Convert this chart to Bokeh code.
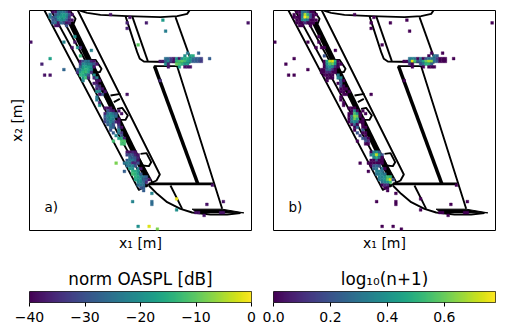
from bokeh.plotting import figure
from bokeh.layouts import column, row
from bokeh.models import Range1d, LinearColorMapper, Label, FixedTicker
from bokeh.palettes import Viridis256
from bokeh.embed import file_html
from bokeh.resources import INLINE
import numpy as np

# cells: (column, row, norm OASPL [dB], log10(n+1))
scattered = [(29,1,-38,0),(36,2,-38,0),(42,4,-37,0),(48,3,-18,0),(49,7,-23,0),(35,4,-36,0),(35,6,-36,0),(79,4,-38,0),
 (0,11,-38,0),(39,12,-10,0),(7,17,-17,0),(4,19,-36,0),(12,21,-27,0),(5,23,-38,0),(7,23,-38,0),(47,25,-35,0),(35,30,-38,0),
 (31,55,-8,0),(44,66,-22,0),(37,69,-22,0),(44,69,-26,0),(44,70,-26,0),(53,68,-1,0),(53,72,-20,0),(66,63,-38,0),(64,70,-38,0),
 (70,69,-38,0),(60,73,-38,0),(61,73,-38,0),(63,74,-38,0),(69,73,-38,0),(70,73,-38,0),(39,78,-20,0),(43,78,-2,0),(46,79,-8,0),
 (16,9,-20,0),(16,11,-38,0),(12,11,-22,0),(17,13,-18,0),(18,16,-13,.2),(22,14,-22,0),(15,13,-38,0),(18,13,-35,0)]
wing_tip_cluster = [(57,15,-24,0),(61,15,-28,0),(65,17,-28,0),(58,16,-17,.3),(59,16,-15,.25),(56,16,-20,0),
 (49,17,-25,.3),(50,17,-27,.35),(51,17,-33,.3),(52,17,-38,0),(53,17,-20,.3),(54,17,-38,0),(55,17,-20,.2),(56,17,-15,.3),(57,17,-15,.3),(58,17,-18,.3),(59,17,-25,.15),(60,17,-28,0),(61,17,-28,0),(62,17,-32,0),
 (47,18,-38,0),(48,18,-38,0),(49,18,-28,.3),(50,18,-22,.75),(51,18,-33,.55),(52,18,-38,.2),(53,18,-14,.3),(54,18,-12,.45),(55,18,-10,.6),(56,18,-12,.68),(57,18,-17,.65),(58,18,-20,.3),(59,18,-28,.2),(60,18,-28,0),(61,18,-30,0),(62,18,-33,0),
 (49,19,-20,.1),(50,19,-36,0),(53,19,-9,.2),(54,19,-11,.3),(55,19,-14,.5),(56,19,-19,.5),(57,19,-18,.25),(50,20,-38,0),(54,20,-18,0),(56,20,-38,0),(57,20,-38,0),(58,20,-38,0)]
top_cluster = [(8,0,-38,0),(9,0,-38,0),(10,0,-26,.3),(11,0,-24,.3),(12,0,-24,.2),(13,0,-30,0),(14,0,-38,0),
 (7,1,-25,0),(9,1,-30,0),(10,1,-24,.3),(11,1,-20,.7),(12,1,-18,.5),(13,1,-20,.2),(14,1,-30,0),(15,1,-38,0),
 (7,2,-22,0),(8,2,-30,0),(9,2,-26,0),(10,2,-20,.35),(11,2,-18,.78),(12,2,-17,.65),(13,2,-22,.2),(14,2,-33,0),
 (8,3,-28,0),(9,3,-30,0),(10,3,-22,.35),(11,3,-20,.4),(12,3,-20,.3),(13,3,-28,0),(14,3,-36,0),(15,3,-38,0),
 (8,4,-28,0),(9,4,-25,0),(10,4,-38,0),(11,4,-26,.1),(12,4,-30,0),(13,4,-38,0),(14,4,-36,0),(9,5,-38,0),(10,5,-38,0),(13,5,-30,0)]
second_cluster = [(18,18,-38,0),(19,18,-30,.45),(20,18,-25,.7),(21,18,-25,.75),(22,18,-36,.5),(23,18,-38,0),
 (18,19,-35,0),(19,19,-22,.4),(20,19,-22,.55),(21,19,-22,.6),(22,19,-25,.4),(23,19,-30,0),(24,19,-38,0),
 (18,20,-28,0),(19,20,-18,.3),(20,20,-17,.4),(21,20,-17,.35),(22,20,-20,.1),(23,20,-38,0),
 (17,21,-28,0),(18,21,-24,0),(19,21,-16,.25),(20,21,-14,.3),(21,21,-16,.1),(22,21,-22,0),
 (17,22,-34,0),(18,22,-18,0),(19,22,-14,.1),(20,22,-13,.1),(21,22,-18,0),(22,22,-34,0),
 (18,23,-14,0),(19,23,-15,0),(20,23,-20,0),(21,23,-30,0),(23,23,-20,.3),(19,24,-18,0),(20,24,-12,0),(21,24,-36,0),(23,24,-35,.35),(24,24,-22,.35),
 (19,25,-22,0),(24,25,-38,.25),(25,25,-38,0),(23,26,-37,0),(24,26,-38,.2),(24,27,-32,.2),(25,27,-36,0),(24,28,-36,0),(25,28,-32,0),(26,28,-38,0),
 (24,29,-20,0),(25,29,-22,0),(27,29,-38,0),(26,30,-30,0),(25,30,-38,0),(24,31,-24,0),(24,32,-23,0),(25,33,-36,0),(25,34,-20,0),(27,35,-38,0),(28,35,-38,0),(29,35,-38,0)]
third_cluster = [(28,36,-30,0),(29,36,-36,.35),(30,36,-38,0),(32,36,-38,0),
 (27,37,-36,0),(28,37,-25,0),(29,37,-22,.55),(30,37,-25,.4),(31,37,-30,0),(33,37,-38,0),
 (27,38,-28,0),(28,38,-22,.3),(29,38,-20,.65),(30,38,-22,.6),(31,38,-26,0),
 (27,39,-30,0),(28,39,-24,.3),(29,39,-20,.6),(30,39,-24,.45),(32,39,-38,0),
 (27,40,-32,0),(28,40,-26,.3),(29,40,-22,.4),(30,40,-26,.3),(31,40,-36,0),(32,40,-38,0),
 (28,41,-28,0),(29,41,-24,.25),(30,41,-30,0),(32,41,-35,0),(29,42,-26,0),(30,42,-28,.25),(32,42,-30,0),(33,42,-38,0),
 (29,43,-30,0),(32,43,-22,.2),(30,44,-28,.2),(32,44,-24,0),(33,44,-34,0),(31,45,-22,.15),(33,45,-30,0),
 (32,46,-16,.2),(33,46,-14,.15),(34,46,-36,0),(30,47,-12,0),(33,47,-11,.2),(34,47,-11,.1),(33,48,-12,0),(34,48,-12,0)]
fourth_cluster = [(35,51,-38,0),(36,51,-38,.3),(37,51,-36,.4),(38,51,-38,.2),
 (35,52,-32,.3),(36,52,-30,.45),(37,52,-30,.72),(38,52,-36,.45),(39,52,-38,.2),
 (36,53,-26,.35),(37,53,-28,.5),(38,53,-30,.3),(39,53,-36,0),(35,54,-28,0),(36,54,-24,0),(37,54,-24,.2),(38,54,-28,0),(39,54,-38,0),
 (34,55,-25,0),(35,55,-22,0),(36,55,-24,0),(37,55,-36,0),(38,55,-35,0),(39,55,-30,0),(35,56,-25,0),(36,56,-24,.2),(37,56,-22,.25),(38,56,-30,.2),
 (36,57,-17,.25),(37,57,-20,.3),(39,57,-22,.3),(40,57,-38,0),(34,58,-28,0),(37,58,-14,.35),(38,58,-15,.35),(39,58,-20,.3),
 (37,59,-12,.3),(38,59,-14,.35),(39,59,-18,.35),(40,59,-28,.3),(38,60,-14,.35),(39,60,-16,.35),(40,60,-22,.4),(41,60,-25,.55),(42,60,-28,.5),
 (38,61,-16,.3),(39,61,-18,.35),(40,61,-20,.4),(41,61,-28,.6),(42,61,-30,.75),(43,61,-38,.2),
 (39,62,-20,.3),(40,62,-22,.35),(41,62,-26,.4),(42,62,-35,.55),(39,63,-26,0),(40,63,-24,.1),(41,63,-26,.1),(40,64,-30,0),(41,64,-28,0),(41,65,-28,0)]
cells = scattered + wing_tip_cluster + top_cluster + second_cluster + third_cluster + fourth_cluster
cell_col = [c[0] for c in cells]
cell_row = [c[1] for c in cells]
oaspl = [c[2] for c in cells]
log_n = [c[3] for c in cells]

# outline of the aircraft, (x, y) measured on the reference
thin_lines = [
 [(72,30),(355,568),(392,548),(408,540),(418,522),(172,30)],
 [(92,30),(380,560)],
 [(112,30),(395,545)],
 [(148,30),(165,55),(160,68),(150,70)],
 [(210,178),(225,178),(243,205),(238,215),(222,215)],
 [(270,285),(300,280)],[(280,305),(298,295)],
 [(290,325),(305,322),(322,345),(315,358),(295,358),(285,340)],
 [(360,460),(378,458),(392,485),(385,497),(365,495),(355,480)],
 [(178,30),(200,37),(240,43),(320,47),(420,50),(470,47),(500,40),(507,30)],
 [(315,47),(350,155),(358,175),(370,183),(510,186)],
 [(335,47),(382,182)],
 [(465,50),(510,175)],
 [(400,197),(470,197),(605,625)],
 [(450,555),(485,625)],
 [(385,555),(410,580),(440,605),(480,625),(515,636),(570,642),(620,642),(660,638)],
]
thick_lines = [([(150,65),(380,535)],5.5),([(402,197),(532,550)],3.5),([(385,550),(578,550)],2.6)]
tail_x = [515,605,670,610,530]
tail_y = [626,626,637,636,636]

oaspl_ticks = [-40,-30,-20,-10,0]
oaspl_tick_labels = {-40:"\u221240",-30:"\u221230",-20:"\u221220",-10:"\u221210",0:"0"}
log_ticks = [0.0,0.2,0.4,0.6]
log_tick_labels = {0.0:"0.0",0.2:"0.2",0.4:"0.4",0.6:"0.6"}

CELL = 8.25
def cx(v): return (v-27)/CELL
def cy(v): return (v-30)/CELL

def panel(vals, low, high, w, h, left, right, tag, ylabel):
    p = figure(width=w, height=h, output_backend="svg", toolbar_location=None,
               x_range=Range1d(0,666/CELL), y_range=Range1d(660/CELL,0),
               min_border_left=left, min_border_right=right, min_border_top=10, min_border_bottom=32)
    p.grid.visible = False
    p.outline_line_color = "black"; p.outline_line_width = 1
    for ln in thin_lines:
        p.line([cx(a) for a,_ in ln],[cy(b) for _,b in ln],line_color="black",line_width=1.9,line_join="round")
    for ln,wd in thick_lines:
        p.line([cx(a) for a,_ in ln],[cy(b) for _,b in ln],line_color="black",line_width=wd)
    p.patch([cx(a) for a in tail_x],[cy(b) for b in tail_y],color="black")
    m = LinearColorMapper(palette=Viridis256, low=low, high=high)
    cols = [m.palette[int(min(255,max(0,(v-low)/(high-low)*255)))] for v in vals]
    p.rect(x=[c+.5 for c in cell_col], y=[r+.5 for r in cell_row], width=1, height=1,
           fill_color=cols, line_color=cols, line_width=0.4)
    ax = p.xaxis[0]
    ax.ticker = FixedTicker(ticks=[]); ax.axis_line_color=None
    ax.axis_label = "x\u2081 [m]"; ax.axis_label_text_font="DejaVu Sans"; ax.axis_label_text_color="black"
    ax.axis_label_text_font_size="14px"; ax.axis_label_text_font_style="normal"; ax.axis_label_standoff=4
    ay = p.yaxis[0]
    if ylabel:
        ay.ticker = FixedTicker(ticks=[]); ay.axis_line_color=None
        ay.axis_label = "x\u2082 [m]"; ay.axis_label_text_font="DejaVu Sans"; ay.axis_label_text_color="black"
        ay.axis_label_text_font_size="14px"; ay.axis_label_text_font_style="normal"; ay.axis_label_standoff=5
    else:
        ay.visible = False
    p.add_layout(Label(x=15,y=16,x_units="screen",y_units="screen",text=tag,text_font="DejaVu Sans",
                       text_font_size="13.5px",text_color="black"))
    return p

def cbar(low, high, ticks, labels, title, w, left, right):
    p = figure(width=w, height=65, output_backend="svg", toolbar_location=None,
               x_range=Range1d(low,high), y_range=Range1d(0,1),
               min_border_left=left, min_border_right=right, min_border_top=29, min_border_bottom=25)
    p.grid.visible=False
    p.yaxis.visible=False
    m = LinearColorMapper(palette=Viridis256, low=low, high=high)
    p.image(image=[np.linspace(low,high,256).reshape(1,256)],x=low,y=0,dw=high-low,dh=1,color_mapper=m)
    p.outline_line_color="#222222"; p.outline_line_width=1
    ax=p.xaxis[0]
    ax.ticker=FixedTicker(ticks=ticks); ax.major_label_overrides=labels; ax.axis_line_color=None
    ax.major_tick_in=0; ax.major_tick_out=4; ax.minor_tick_line_color=None; ax.major_tick_line_color="black"
    ax.major_label_text_font="DejaVu Sans"; ax.major_label_text_font_size="14px"; ax.major_label_standoff=5
    ax.major_label_text_color="black"
    p.title.text=title; p.title.align="center"; p.title.text_font="DejaVu Sans"; p.title.text_color="black"
    p.title.text_font_size="16.8px"; p.title.text_font_style="normal"; p.title.standoff=6
    return p

a = panel(oaspl,-40,0,262,262,29,11,"a)",True)
b = panel(log_n,0,0.78,238,262,11,5,"b)",False)
ca = cbar(-40,0,oaspl_ticks,oaspl_tick_labels,"norm OASPL [dB]",262,29,11)
cb = cbar(0,0.78,log_ticks,log_tick_labels,"log\u2081\u2080(n+1)",238,11,5)
page = column(row(a,b,spacing=0),row(ca,cb,spacing=0),spacing=0)
open("out.html","w").write(file_html(page,INLINE))
